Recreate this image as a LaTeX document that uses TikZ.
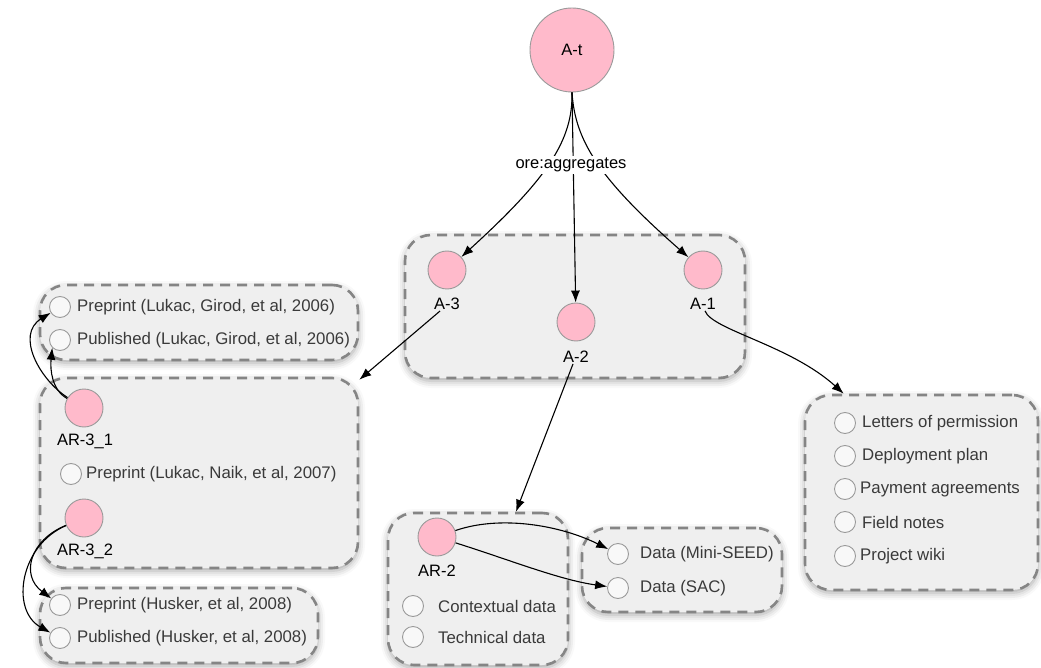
\documentclass[tikz,border=0pt]{standalone}
\usepackage{fontspec}
\setmainfont{Liberation Sans}
\usetikzlibrary{arrows.meta,shadows.blur}
\definecolor{pinkfill}{HTML}{FFBACB}
\definecolor{circedge}{HTML}{9A9A9A}
\definecolor{grpfill}{HTML}{EFEFEF}
\definecolor{grpedge}{HTML}{858585}
\definecolor{itemtext}{HTML}{3A3A3A}
\definecolor{itemfill}{HTML}{F8F8F8}
\begin{document}
\begin{tikzpicture}[x=1pt,y=-1pt,
  group/.style={draw=grpedge, line width=2.6pt, dash pattern=on 10pt off 7pt,
    fill=grpfill, rounded corners=26pt, inner sep=0pt,
    blur shadow={shadow xshift=0pt, shadow yshift=-3pt, shadow blur radius=7pt, shadow opacity=35}},
  big/.style={circle, draw=circedge, fill=pinkfill, minimum size=84pt, inner sep=0pt,
    line width=0.9pt, font=\fontsize{16.5}{19}\selectfont},
  res/.style={circle, draw=circedge, fill=pinkfill, minimum size=38pt, inner sep=0pt, line width=0.9pt},
  item/.style={circle, draw=circedge, fill=itemfill, minimum size=21pt, inner sep=0pt, line width=0.9pt},
  itxt/.style={anchor=west, text=itemtext, font=\fontsize{16.8}{19}\selectfont, inner sep=0pt},
  lab/.style={font=\fontsize{16.5}{19}\selectfont, inner sep=1pt},
  arr/.style={-{Latex[length=12pt,width=9pt]}, line width=1.1pt},
]
\useasboundingbox (0,0) rectangle (1041,668);

% groups
\node[group, minimum width=340pt, minimum height=143pt] (ga) at (575,306.5) {};
\node[group, minimum width=318pt, minimum height=75pt] (ggirod) at (199,322.5) {};
\node[group, minimum width=318pt, minimum height=190pt] (gar3) at (199,473) {};
\node[group, minimum width=278pt, minimum height=75pt] (ghusk) at (179,625.5) {};
\node[group, minimum width=180pt, minimum height=152pt] (gar2) at (478,589) {};
\node[group, minimum width=200pt, minimum height=84pt] (gdata) at (682,570) {};
\node[group, minimum width=233pt, minimum height=195pt] (gright) at (921.5,492.5) {};

% main nodes
\node[big] (at) at (572,50) {A-t};
\node[res] (a3) at (447,270) {};
\node[lab] (a3l) at (447,304) {A-3};
\node[res] (a2) at (576,322) {};
\node[lab] (a2l) at (576,357) {A-2};
\node[res] (a1) at (703,270) {};
\node[lab] (a1l) at (703,304) {A-1};

% Girod group
\node[item] (pg1) at (60,307) {};
\node[itxt] (tg1) at (77,307) {Preprint (Lukac, Girod, et al, 2006)};
\node[item] (pg2) at (60,340) {};
\node[itxt] (tg2) at (77,340) {Published (Lukac, Girod, et al, 2006)};

% AR-3 group
\node[res] (ar31) at (84,408) {};
\node[lab] (ar31l) at (85,441) {AR-3\_1};
\node[item] (pn1) at (71,474) {};
\node[itxt] (tn1) at (86,474) {Preprint (Lukac, Naik, et al, 2007)};
\node[res] (ar32) at (84,518) {};
\node[lab] (ar32l) at (85,551) {AR-3\_2};

% Husker group
\node[item] (ph1) at (60,605) {};
\node[itxt] (th1) at (77,605) {Preprint (Husker, et al, 2008)};
\node[item] (ph2) at (60,638) {};
\node[itxt] (th2) at (77,638) {Published (Husker, et al, 2008)};

% AR-2 group
\node[res] (ar2) at (437,537) {};
\node[lab] (ar2l) at (437,571) {AR-2};
\node[item] (pc1) at (413,606) {};
\node[itxt] (tc1) at (438,606) {Contextual data};
\node[item] (pc2) at (413,637) {};
\node[itxt] (tc2) at (438,637) {Technical data};

% Data group
\node[item] (pd1) at (618,554) {};
\node[itxt] (td1) at (640,554) {Data (Mini-SEED)};
\node[item] (pd2) at (618,588) {};
\node[itxt] (td2) at (640,588) {Data (SAC)};

% Right group
\node[item] (pr1) at (845,423) {};
\node[itxt] (tr1) at (862,423) {Letters of permission};
\node[item] (pr2) at (845,456) {};
\node[itxt] (tr2) at (862,456) {Deployment plan};
\node[item] (pr3) at (845,489) {};
\node[itxt] (tr3) at (860,489) {Payment agreements};
\node[item] (pr4) at (845,522) {};
\node[itxt] (tr4) at (862,522) {Field notes};
\node[item] (pr5) at (845,556) {};
\node[itxt] (tr5) at (860,556) {Project wiki};

% aggregation edges
\draw[arr] (at.south) .. controls (573,140) and (548,178) .. (a3);
\draw[arr] (at.south) -- (a2);
\draw[arr] (at.south) .. controls (575,140) and (598,178) .. (a1);
\node[lab, fill=white, inner sep=2pt] (agg) at (571,165) {ore:aggregates};

% group links
\draw[arr] ([xshift=-7pt]a3l.south) -- ([yshift=-3pt]gar3.north east);
\draw[arr] ([xshift=-3pt]a2l.south) -- ([xshift=38pt]gar2.north);
\draw[arr] ([xshift=2pt]a1l.south) .. controls (712,330) and (790,345) .. ([xshift=40pt]gright.north west);

% inner links
\draw[arr] (ar31) .. controls (40,380) and (15,335) .. (pg1);
\draw[arr] (ar31) .. controls (52,390) and (50,370) .. (pg2.south west);
\draw[arr] (ar32) .. controls (30,540) and (20,575) .. (ph1);
\draw[arr] (ar32) .. controls (20,545) and (10,610) .. (ph2);
\draw[arr] (ar2) .. controls (500,515) and (560,525) .. (pd1);
\draw[arr] (ar2) .. controls (510,560) and (560,580) .. (pd2);
\end{tikzpicture}
\end{document}
